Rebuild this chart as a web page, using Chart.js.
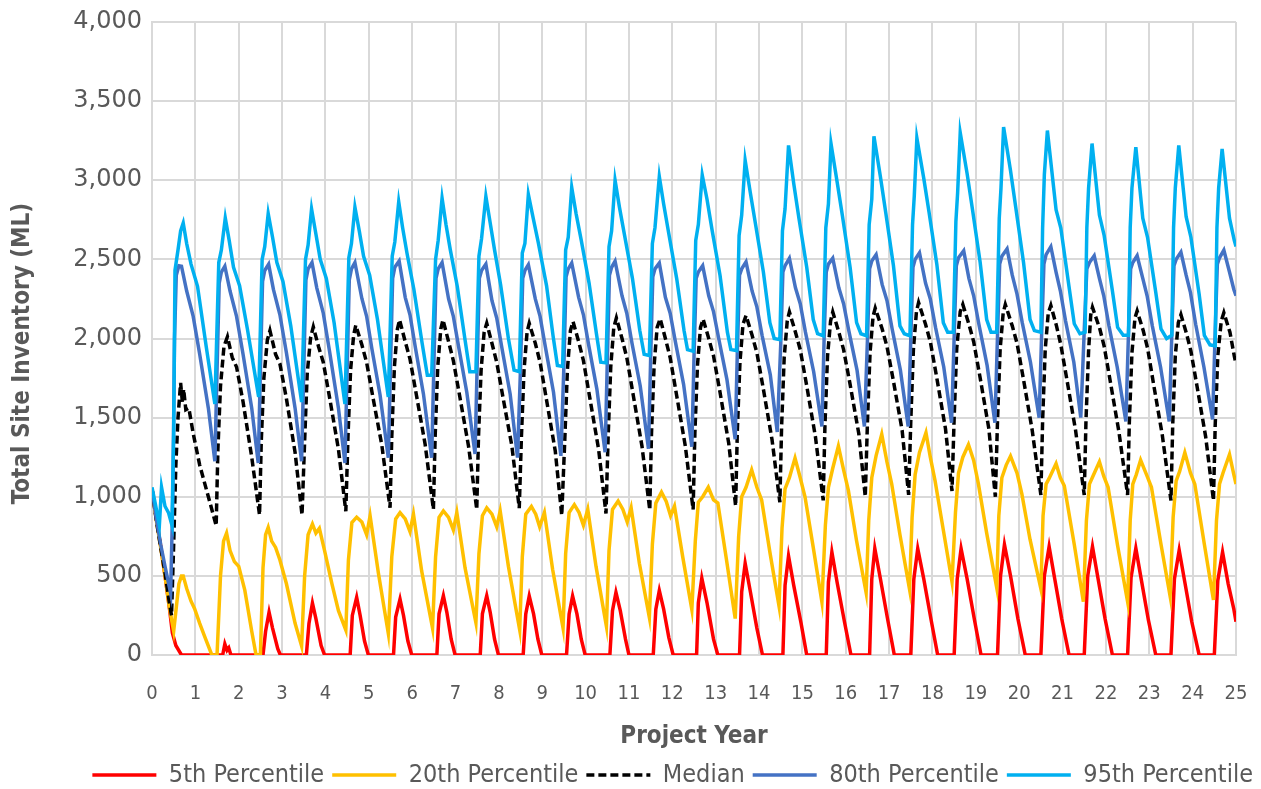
<!DOCTYPE html>
<html>
<head>
<meta charset="utf-8">
<script src="https://cdn.jsdelivr.net/npm/chart.js@4/dist/chart.umd.min.js"></script>
<style>
  html, body { margin: 0; padding: 0; background: #ffffff; }
  #wrap { width: 1261px; height: 789px; }
</style>
</head>
<body>
<div id="wrap"><canvas id="chart" width="1261" height="789"></canvas></div>
<script>
// Simulated total site inventory (ML) by project year, five percentile traces.
// Each entry is [project year, inventory in ML].
const seriesNames = ['5th Percentile', '20th Percentile', 'Median', '80th Percentile', '95th Percentile'];
const yTicks = [0, 500, 1000, 1500, 2000, 2500, 3000, 3500, 4000];
const xTicks = [0,1,2,3,4,5,6,7,8,9,10,11,12,13,14,15,16,17,18,19,20,21,22,23,24,25];

const p05 = [
  [0,1050],[0.1,860],[0.2,690],[0.3,500],[0.4,300],[0.47,140],[0.55,60],[0.68,0],[1.63,0],[1.68,70],[1.73,30],[1.77,45],[1.82,0],[2.56,0],
  [2.62,150],[2.7,271],[2.78,170],[2.9,40],[2.96,0],[3.56,0],
  [3.62,200],[3.7,328],[3.78,230],[3.9,60],[3.98,0],[4.57,0],
  [4.62,250],[4.72,364],[4.8,250],[4.9,90],[4.99,0],[5.57,0],
  [5.62,240],[5.72,353],[5.8,250],[5.9,90],[5.99,0],[6.57,0],
  [6.62,260],[6.72,375],[6.8,270],[6.9,100],[6.99,0],[7.57,0],
  [7.62,260],[7.72,375],[7.8,270],[7.9,100],[7.99,0],[8.56,0],
  [8.62,260],[8.7,373],[8.8,260],[8.9,100],[8.99,0],[9.56,0],
  [9.62,260],[9.7,373],[9.8,260],[9.9,100],[9.99,0],[10.56,0],
  [10.62,280],[10.7,396],[10.8,280],[10.92,100],[11.0,0],[11.56,0],
  [11.62,290],[11.7,407],[11.8,290],[11.92,110],[12.02,0],[12.56,0],
  [12.6,330],[12.68,486],[12.8,330],[12.95,100],[13.05,0],[13.55,0],
  [13.6,400],[13.68,579],[13.8,400],[13.95,170],[14.08,0],[14.55,0],
  [14.6,440],[14.68,626],[14.8,440],[14.97,200],[15.1,0],[15.55,0],
  [15.6,460],[15.68,650],[15.8,460],[15.97,210],[16.12,0],[16.55,0],
  [16.6,480],[16.67,673],[16.8,480],[16.97,220],[17.12,0],[17.5,0],
  [17.57,480],[17.66,673],[17.8,480],[17.97,220],[18.12,0],[18.5,0],
  [18.57,480],[18.66,673],[18.8,480],[18.97,220],[19.12,0],[19.5,0],
  [19.57,500],[19.66,697],[19.8,500],[19.97,230],[20.14,0],[20.5,0],
  [20.58,500],[20.69,685],[20.82,480],[20.98,230],[21.15,0],[21.5,0],
  [21.58,500],[21.69,685],[21.82,480],[21.98,230],[22.15,0],[22.5,0],
  [22.58,490],[22.69,674],[22.82,470],[22.98,220],[23.15,0],[23.5,0],
  [23.58,480],[23.69,662],[23.82,460],[23.98,210],[24.15,0],[24.5,0],
  [24.58,470],[24.69,650],[24.82,450],[24.95,290],[25,210]
];

const p20 = [
  [0,1050],[0.1,850],[0.2,680],[0.3,500],[0.4,300],[0.5,150],[0.56,300],[0.62,450],[0.68,500],[0.72,500],[0.8,420],[0.9,340],[0.98,294],[1.1,200],[1.22,113],[1.38,0],[1.5,0],
  [1.58,500],[1.65,720],[1.72,770],[1.8,660],[1.9,590],[2.0,560],[2.14,410],[2.3,150],[2.4,0],[2.5,0],
  [2.56,550],[2.62,760],[2.68,806],[2.76,720],[2.85,680],[2.95,600],[3.1,450],[3.3,200],[3.45,57],
  [3.52,500],[3.6,760],[3.7,828],[3.78,770],[3.86,800],[3.98,660],[4.15,450],[4.3,280],[4.47,158],
  [4.53,600],[4.61,837],[4.72,871],[4.84,840],[4.95,760],[5.03,880],[5.22,520],[5.45,136],
  [5.53,620],[5.62,860],[5.72,900],[5.84,860],[5.95,780],[6.03,890],[6.22,530],[6.47,170],
  [6.54,620],[6.62,870],[6.72,910],[6.84,870],[6.95,790],[7.03,900],[7.22,550],[7.47,204],
  [7.54,640],[7.62,880],[7.72,930],[7.84,890],[7.95,810],[8.03,910],[8.22,560],[8.48,158],
  [8.54,620],[8.62,890],[8.75,939],[8.85,890],[8.94,810],[9.05,900],[9.24,540],[9.48,170],
  [9.54,640],[9.62,900],[9.74,950],[9.85,900],[9.95,820],[10.05,920],[10.24,560],[10.48,181],
  [10.54,660],[10.62,920],[10.75,973],[10.86,920],[10.96,840],[11.05,930],[11.24,580],[11.47,238],
  [11.54,700],[11.62,960],[11.75,1029],[11.86,970],[11.96,880],[12.05,940],[12.24,620],[12.45,288],
  [12.53,720],[12.6,966],[12.7,1000],[12.83,1060],[12.95,980],[13.05,960],[13.25,600],[13.45,230],
  [13.53,750],[13.6,1000],[13.7,1060],[13.83,1170],[13.95,1060],[14.06,980],[14.25,650],[14.46,311],
  [14.53,800],[14.6,1050],[14.7,1120],[14.83,1244],[14.95,1120],[15.06,1000],[15.25,680],[15.45,335],
  [15.53,820],[15.6,1060],[15.7,1180],[15.83,1320],[15.95,1170],[16.06,1040],[16.25,720],[16.47,393],
  [16.53,850],[16.6,1120],[16.7,1260],[16.83,1395],[16.95,1220],[17.06,1080],[17.25,760],[17.47,416],
  [17.53,870],[17.6,1140],[17.7,1280],[17.85,1405],[17.95,1250],[18.06,1100],[18.25,790],[18.45,463],
  [18.53,900],[18.6,1150],[18.7,1250],[18.83,1330],[18.95,1230],[19.06,1080],[19.25,770],[19.48,428],
  [19.53,880],[19.6,1120],[19.7,1200],[19.8,1257],[19.95,1150],[20.06,1020],[20.25,730],[20.5,418],
  [20.55,880],[20.62,1080],[20.69,1116],[20.85,1209],[20.95,1120],[21.04,1070],[21.27,698],[21.48,337],
  [21.55,850],[21.62,1080],[21.7,1130],[21.85,1221],[21.95,1130],[22.05,1060],[22.27,690],[22.5,337],
  [22.56,850],[22.62,1080],[22.7,1140],[22.8,1232],[22.95,1130],[23.05,1060],[23.27,700],[23.48,372],
  [23.55,870],[23.62,1100],[23.7,1160],[23.82,1279],[23.95,1150],[24.05,1080],[24.27,700],[24.48,348],
  [24.55,850],[24.62,1080],[24.7,1150],[24.85,1267],[24.95,1140],[25,1080]
];

const p50 = [
  [0,1050],[0.1,850],[0.2,680],[0.3,520],[0.4,330],[0.45,250],[0.5,700],[0.55,1200],[0.6,1500],[0.66,1720],[0.7,1600],[0.73,1680],[0.78,1550],[0.85,1560],[0.95,1400],[1.1,1200],[1.25,1050],[1.35,950],[1.48,817],
  [1.52,1300],[1.58,1700],[1.66,1950],[1.74,2011],[1.85,1880],[1.95,1820],[2.1,1600],[2.3,1250],[2.48,885],
  [2.52,1350],[2.58,1750],[2.66,1990],[2.72,2050],[2.85,1900],[2.95,1840],[3.1,1620],[3.3,1280],[3.46,885],
  [3.52,1350],[3.58,1780],[3.66,2010],[3.72,2073],[3.84,1950],[3.95,1850],[4.1,1620],[4.3,1300],[4.47,908],
  [4.52,1380],[4.58,1800],[4.65,2020],[4.7,2084],[4.84,1960],[4.95,1848],[5.1,1621],[5.3,1327],[5.49,930],
  [5.53,1380],[5.59,1820],[5.66,2060],[5.71,2118],[5.84,1980],[5.95,1870],[6.1,1640],[6.3,1330],[6.49,920],
  [6.53,1380],[6.59,1820],[6.66,2060],[6.71,2118],[6.84,1980],[6.95,1860],[7.1,1630],[7.3,1320],[7.49,920],
  [7.53,1380],[7.59,1800],[7.66,2040],[7.72,2096],[7.84,1970],[7.95,1850],[8.1,1620],[8.3,1320],[8.47,928],
  [8.52,1380],[8.58,1800],[8.65,2040],[8.7,2096],[8.84,1970],[8.95,1850],[9.1,1610],[9.3,1290],[9.45,882],
  [9.52,1360],[9.58,1800],[9.65,2050],[9.71,2107],[9.84,1980],[9.95,1860],[10.1,1620],[10.3,1300],[10.47,894],
  [10.52,1380],[10.58,1820],[10.65,2070],[10.71,2130],[10.84,2000],[10.95,1880],[11.1,1640],[11.3,1320],[11.48,916],
  [11.52,1400],[11.58,1830],[11.65,2070],[11.72,2125],[11.84,2000],[11.95,1880],[12.1,1640],[12.3,1320],[12.48,919],
  [12.52,1400],[12.58,1830],[12.65,2070],[12.71,2122],[12.84,2000],[12.95,1890],[13.1,1660],[13.3,1340],[13.46,942],
  [13.5,1420],[13.56,1850],[13.63,2090],[13.7,2145],[13.84,2020],[13.95,1910],[14.1,1680],[14.3,1360],[14.48,965],
  [14.52,1440],[14.58,1880],[14.65,2110],[14.7,2168],[14.84,2040],[14.95,1930],[15.1,1700],[15.3,1380],[15.48,977],
  [15.52,1450],[15.58,1890],[15.65,2110],[15.7,2168],[15.84,2040],[15.95,1930],[16.1,1710],[16.3,1400],[16.45,1000],
  [16.5,1470],[16.56,1910],[16.63,2140],[16.68,2192],[16.84,2060],[16.95,1950],[17.1,1730],[17.3,1420],[17.45,1012],
  [17.5,1480],[17.56,1930],[17.63,2170],[17.68,2227],[17.84,2090],[17.95,1980],[18.1,1750],[18.3,1430],[18.45,1036],
  [18.5,1500],[18.56,1940],[18.64,2170],[18.7,2215],[18.84,2090],[18.95,1980],[19.1,1750],[19.3,1430],[19.45,1000],
  [19.5,1480],[19.56,1930],[19.63,2160],[19.68,2215],[19.84,2080],[19.95,1970],[20.1,1740],[20.3,1420],[20.5,1011],
  [20.54,1480],[20.6,1930],[20.67,2160],[20.73,2209],[20.86,2080],[20.96,1960],[21.1,1740],[21.3,1420],[21.5,1011],
  [21.54,1480],[21.6,1920],[21.65,2150],[21.69,2197],[21.86,2060],[21.96,1950],[22.1,1730],[22.3,1410],[22.5,1011],
  [22.54,1470],[22.6,1910],[22.67,2130],[22.72,2174],[22.86,2050],[22.96,1940],[23.1,1710],[23.3,1390],[23.5,976],
  [23.54,1450],[23.6,1890],[23.67,2100],[23.73,2151],[23.86,2030],[23.96,1920],[24.1,1700],[24.3,1380],[24.48,976],
  [24.52,1450],[24.58,1890],[24.66,2110],[24.72,2163],[24.86,2040],[24.96,1890],[25,1837]
];

const p80 = [
  [0,1050],[0.1,860],[0.2,700],[0.3,560],[0.43,390],[0.48,1000],[0.52,2000],[0.56,2400],[0.62,2460],[0.68,2457],[0.8,2300],[0.95,2140],[1.1,1900],[1.3,1560],[1.45,1224],
  [1.5,1800],[1.55,2350],[1.6,2420],[1.68,2457],[1.8,2300],[1.95,2140],[2.1,1900],[2.3,1560],[2.45,1213],
  [2.5,1800],[2.55,2360],[2.6,2430],[2.69,2469],[2.8,2310],[2.95,2150],[3.1,1910],[3.3,1560],[3.45,1224],
  [3.5,1800],[3.55,2370],[3.6,2440],[3.69,2480],[3.8,2320],[3.95,2160],[4.1,1910],[4.3,1560],[4.45,1213],
  [4.5,1800],[4.55,2370],[4.6,2440],[4.68,2480],[4.84,2253],[4.95,2140],[5.07,1937],[5.26,1643],[5.45,1247],
  [5.5,1820],[5.55,2380],[5.6,2450],[5.7,2490],[5.84,2260],[5.95,2150],[6.07,1950],[6.26,1650],[6.45,1247],
  [6.5,1820],[6.55,2380],[6.6,2440],[6.69,2480],[6.84,2250],[6.95,2140],[7.07,1950],[7.26,1660],[7.45,1270],
  [7.5,1840],[7.55,2380],[7.6,2430],[7.7,2470],[7.84,2240],[7.95,2130],[8.07,1940],[8.26,1650],[8.43,1247],
  [8.5,1820],[8.55,2380],[8.6,2430],[8.68,2466],[8.84,2250],[8.95,2140],[9.07,1950],[9.26,1660],[9.43,1258],
  [9.5,1830],[9.55,2390],[9.6,2440],[9.68,2477],[9.84,2260],[9.95,2150],[10.07,1960],[10.26,1680],[10.45,1281],
  [10.5,1850],[10.55,2400],[10.6,2450],[10.68,2489],[10.84,2270],[10.95,2160],[11.07,1970],[11.26,1700],[11.45,1303],
  [11.5,1870],[11.55,2390],[11.6,2440],[11.7,2477],[11.84,2260],[11.95,2160],[12.07,1980],[12.26,1710],[12.45,1316],
  [12.5,1880],[12.55,2380],[12.6,2420],[12.7,2460],[12.84,2270],[12.95,2170],[13.07,2000],[13.26,1740],[13.45,1363],
  [13.5,1920],[13.55,2400],[13.6,2440],[13.7,2484],[13.84,2300],[13.95,2200],[14.07,2020],[14.26,1770],[14.42,1409],
  [14.5,1960],[14.55,2420],[14.6,2460],[14.7,2507],[14.84,2320],[14.95,2220],[15.07,2040],[15.26,1790],[15.45,1444],
  [15.5,1990],[15.55,2420],[15.6,2470],[15.7,2507],[15.84,2320],[15.95,2220],[16.07,2050],[16.26,1800],[16.43,1444],
  [16.5,1990],[16.55,2440],[16.6,2490],[16.7,2530],[16.84,2340],[16.95,2240],[17.07,2060],[17.26,1800],[17.44,1444],
  [17.5,2000],[17.55,2450],[17.6,2500],[17.7,2542],[17.84,2350],[17.95,2250],[18.07,2070],[18.26,1820],[18.44,1468],
  [18.5,2010],[18.55,2460],[18.6,2510],[18.72,2554],[18.84,2380],[18.95,2270],[19.07,2090],[19.26,1830],[19.44,1468],
  [19.5,2020],[19.55,2470],[19.6,2520],[19.72,2566],[19.84,2400],[19.95,2280],[20.07,2100],[20.26,1850],[20.46,1500],
  [20.52,2050],[20.57,2470],[20.62,2530],[20.73,2580],[20.85,2420],[20.95,2300],[21.07,2110],[21.26,1850],[21.42,1500],
  [21.5,2050],[21.56,2440],[21.62,2480],[21.73,2523],[21.85,2380],[21.95,2270],[22.07,2080],[22.26,1820],[22.46,1476],
  [22.52,2030],[22.57,2440],[22.62,2480],[22.72,2523],[22.85,2380],[22.95,2270],[23.07,2080],[23.26,1820],[23.46,1476],
  [23.52,2030],[23.57,2460],[23.62,2500],[23.73,2546],[23.85,2400],[23.95,2290],[24.07,2090],[24.26,1820],[24.46,1488],
  [24.52,2040],[24.57,2470],[24.62,2510],[24.72,2558],[24.85,2420],[24.95,2310],[25,2270]
];

const p95 = [
  [0,1060],[0.08,950],[0.17,820],[0.22,1060],[0.3,940],[0.38,900],[0.46,820],[0.5,1400],[0.53,2430],[0.6,2560],[0.66,2680],[0.72,2730],[0.8,2600],[0.9,2470],[1.05,2330],[1.25,1950],[1.45,1586],
  [1.54,2480],[1.6,2560],[1.69,2762],[1.78,2620],[1.88,2450],[2.02,2333],[2.2,2060],[2.46,1631],
  [2.54,2500],[2.6,2580],[2.68,2790],[2.78,2640],[2.88,2480],[3.02,2360],[3.2,2080],[3.45,1598],
  [3.54,2500],[3.6,2590],[3.68,2819],[3.78,2660],[3.88,2500],[4.02,2380],[4.2,2100],[4.45,1586],
  [4.54,2510],[4.6,2600],[4.68,2830],[4.78,2680],[4.88,2520],[5.02,2400],[5.2,2120],[5.45,1631],
  [5.54,2520],[5.6,2610],[5.69,2864],[5.78,2700],[5.88,2540],[6.04,2310],[6.23,1970],[6.35,1767],[6.45,1767],
  [6.54,2500],[6.6,2620],[6.69,2887],[6.78,2720],[6.88,2560],[7.04,2330],[7.22,1990],[7.33,1790],[7.47,1790],
  [7.54,2520],[7.6,2630],[7.7,2898],[7.8,2730],[7.9,2560],[8.04,2340],[8.22,2000],[8.35,1800],[8.47,1790],
  [8.54,2540],[8.6,2600],[8.68,2910],[8.79,2762],[8.91,2604],[9.1,2333],[9.25,2016],[9.35,1830],[9.47,1824],
  [9.54,2560],[9.6,2640],[9.68,2955],[9.78,2790],[9.9,2620],[10.08,2350],[10.25,2030],[10.35,1850],[10.47,1846],
  [10.54,2580],[10.6,2680],[10.68,3000],[10.78,2830],[10.9,2650],[11.08,2380],[11.25,2050],[11.35,1900],[11.47,1892],
  [11.54,2600],[11.6,2700],[11.7,3023],[11.8,2850],[11.92,2660],[12.1,2380],[12.27,2050],[12.35,1930],[12.48,1920],
  [12.54,2620],[12.6,2720],[12.69,3033],[12.8,2880],[12.92,2680],[13.1,2400],[13.27,2040],[13.35,1930],[13.48,1923],
  [13.54,2650],[13.6,2780],[13.68,3126],[13.8,2920],[13.92,2720],[14.1,2420],[14.25,2100],[14.35,2000],[14.48,1993],
  [14.54,2680],[14.6,2820],[14.68,3220],[14.8,2980],[14.92,2760],[15.1,2450],[15.25,2120],[15.35,2030],[15.48,2017],
  [15.54,2700],[15.6,2850],[15.66,3231],[15.8,2990],[15.92,2780],[16.1,2450],[16.25,2100],[16.35,2030],[16.48,2017],
  [16.54,2720],[16.6,2880],[16.65,3278],[16.8,3020],[16.92,2800],[17.1,2460],[17.25,2080],[17.35,2030],[17.48,2017],
  [17.54,2720],[17.58,2900],[17.64,3266],[17.8,3010],[17.92,2800],[18.1,2470],[18.25,2100],[18.35,2040],[18.48,2040],
  [18.54,2740],[18.58,2920],[18.64,3301],[18.8,3040],[18.92,2820],[19.1,2480],[19.25,2120],[19.35,2040],[19.48,2040],
  [19.54,2760],[19.58,2950],[19.64,3336],[19.8,3060],[19.92,2830],[20.1,2480],[20.25,2120],[20.35,2050],[20.5,2040],
  [20.54,2700],[20.58,3035],[20.65,3314],[20.85,2814],[20.96,2698],[21.15,2325],[21.27,2093],[21.4,2030],[21.52,2040],
  [21.56,2700],[21.6,2950],[21.68,3232],[21.85,2780],[21.96,2650],[22.15,2300],[22.27,2070],[22.4,2020],[22.52,2020],
  [22.56,2700],[22.6,2950],[22.69,3209],[22.85,2760],[22.96,2640],[23.15,2290],[23.27,2060],[23.4,2000],[23.52,2020],
  [23.56,2700],[23.6,2950],[23.68,3220],[23.85,2770],[23.96,2640],[24.15,2280],[24.27,2020],[24.4,1960],[24.52,1953],
  [24.56,2700],[24.6,2950],[24.68,3198],[24.85,2760],[24.96,2620],[25,2581]
];

const seriesValues = [p05, p20, p50, p80, p95];
const seriesColors = ['#FF0000', '#FFC000', '#000000', '#4472C4', '#00B0F0'];
const seriesDashes = [[], [], [8, 4], [], []];
const LINE_W = 3.5;

const TEXT = '#595959';
const GRID = '#D9D9D9';
const COND = '"DejaVu Sans", sans-serif';

const datasets = seriesNames.map((name, i) => ({
  label: name,
  data: seriesValues[i].map(p => ({ x: p[0], y: p[1] })),
  borderColor: seriesColors[i],
  backgroundColor: seriesColors[i],
  borderWidth: LINE_W,
  borderDash: seriesDashes[i],
  pointRadius: 0,
  tension: 0,
  fill: false,
  // later series sit on top of earlier ones
  order: seriesNames.length - i
}));

// legend samples drawn as line segments carrying each series' dash pattern
function lineLegendLabels(chart) {
  const items = Chart.defaults.plugins.legend.labels.generateLabels(chart);
  return items.map(item => {
    const ds = chart.data.datasets[item.datasetIndex];
    item.strokeStyle = ds.borderColor;
    item.lineWidth = LINE_W;
    item.lineDash = ds.borderDash;
    item.lineCap = 'butt';
    return item;
  });
}

new Chart(document.getElementById('chart'), {
  type: 'line',
  data: { datasets },
  options: {
    responsive: false,
    animation: false,
    layout: { padding: { top: 0, right: 0, left: 0, bottom: -8.5 } },
    plugins: {
      tooltip: { enabled: false },
      legend: {
        position: 'bottom',
        align: 'end',
        reverse: true,
        labels: {
          usePointStyle: true,
          pointStyle: 'line',
          pointStyleWidth: 64,
          boxWidth: 64,
          boxHeight: 20,
          padding: 8,
          color: TEXT,
          font: { family: COND, size: 25, weight: 'condensed' },
          generateLabels: lineLegendLabels
        }
      }
    },
    scales: {
      x: {
        type: 'linear',
        min: 0,
        max: 25,
        afterBuildTicks: s => { s.ticks = xTicks.map(v => ({ value: v })); },
        afterFit: s => { s.height = 99.5; s.paddingRight = 25; },
        ticks: { color: TEXT, font: { family: COND, size: 20, weight: 'condensed' }, padding: 27, maxRotation: 0, autoSkip: false },
        grid: { color: GRID, lineWidth: 2, drawTicks: false },
        border: { color: GRID, width: 2 },
        title: { display: true, text: 'Project Year', color: TEXT, font: { family: COND, size: 24, weight: 'bold condensed', lineHeight: 1.46 }, padding: 0 }
      },
      y: {
        min: 0,
        max: 4000,
        afterBuildTicks: s => { s.ticks = yTicks.map(v => ({ value: v })); },
        afterFit: s => { s.width = 152; s.paddingTop = 22; s.paddingBottom = 0; },
        ticks: {
          color: TEXT,
          font: { family: '"DejaVu Sans", sans-serif', size: 24 },
          padding: 10,
          callback: v => v.toLocaleString('en-US')
        },
        grid: { color: GRID, lineWidth: 2, drawTicks: false },
        border: { color: GRID, width: 2 },
        // trailing no-break spaces nudge the rotated title slightly below the axis midpoint
        title: { display: true, text: 'Total Site Inventory (ML)\u00a0\u00a0\u00a0\u00a0', color: TEXT, font: { family: COND, size: 24, weight: 'bold condensed' }, padding: { top: 8, bottom: 0 } }
      }
    }
  }
});
</script>
</body>
</html>
